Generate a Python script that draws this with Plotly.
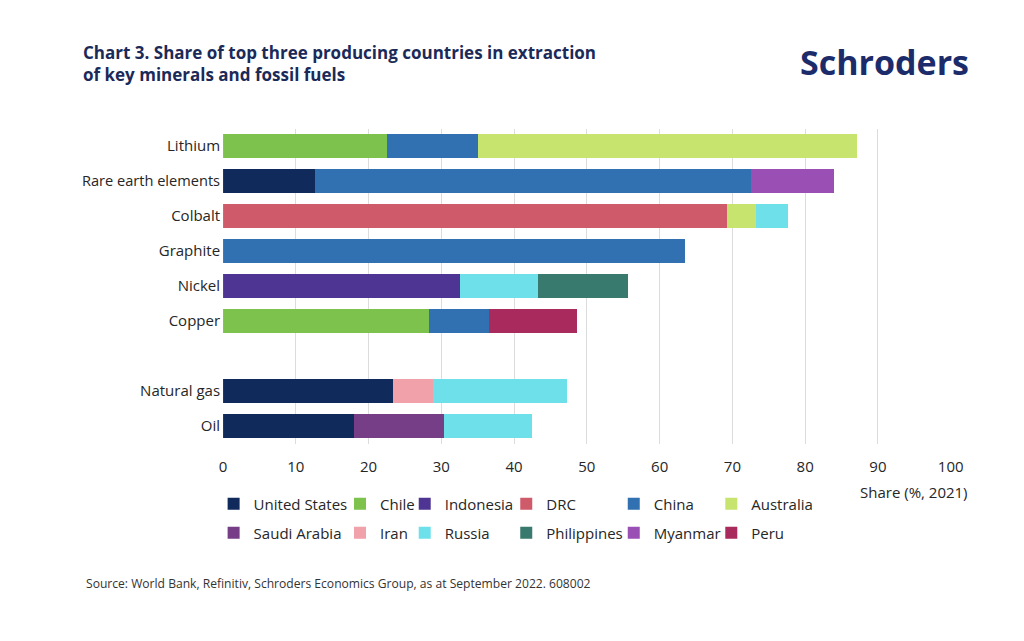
import plotly.graph_objects as go

categories = ["Lithium", "Rare earth elements", "Colbalt", "Graphite", "Nickel", "Copper", " ", "Natural gas", "Oil"]

countries = ["United States", "Chile", "Indonesia", "DRC", "China", "Australia",
             "Saudi Arabia", "Iran", "Russia", "Philippines", "Myanmar", "Peru"]

colors = ["#112a5c", "#7cc24c", "#4e3493", "#cf5b6a", "#3171b1", "#c7e46f",
          "#763e86", "#f0a1a9", "#6ee0ea", "#387a6d", "#9a4fb4", "#a92b5e"]

#                 Lith  REE   Cob   Graph Nick  Copp  gap   Gas   Oil
united_states = [None, 12.7, None, None, None, None, None, 23.3, 18.0]
chile         = [22.5, None, None, None, None, 28.3, None, None, None]
indonesia     = [None, None, None, None, 32.6, None, None, None, None]
drc           = [None, None, 69.3, None, None, None, None, None, None]
china         = [12.5, 59.9, None, 63.5, None, 8.3, None, None, None]
australia     = [52.1, None, 4.0, None, None, None, None, None, None]
saudi_arabia  = [None, None, None, None, None, None, None, None, 12.3]
iran          = [None, None, None, None, None, None, None, 5.6, None]
russia        = [None, None, 4.4, None, 10.7, None, None, 18.4, 12.1]
philippines   = [None, None, None, None, 12.4, None, None, None, None]
myanmar       = [None, 11.3, None, None, None, None, None, None, None]
peru          = [None, None, None, None, None, 12.0, None, None, None]

series = [united_states, chile, indonesia, drc, china, australia,
          saudi_arabia, iran, russia, philippines, myanmar, peru]

x_ticks = [0, 10, 20, 30, 40, 50, 60, 70, 80, 90, 100]

W, H = 1024, 641
FONT = "Open Sans"
TXT = "#262626"


def fx(p):
    """target screen pixel (x) -> paper fraction (compensates page scaling)"""
    return (p - 2.4) / 0.988 / W


def fy(p):
    return 1 - p / H


# legend text-start positions (px) per column, and row centres (px)
col_text_x = [253, 380, 445, 547, 655, 753]
row_y = [504, 533]

fig = go.Figure()
legend_layouts = {}
for i, (name, vals, col) in enumerate(zip(countries, series, colors)):
    lname = "legend" if i == 0 else f"legend{i + 1}"
    fig.add_trace(go.Bar(
        y=categories, x=vals, name=name, orientation="h",
        marker=dict(color=col, line=dict(width=0)),
        legend=lname,
    ))
    r, c = divmod(i, 6)
    legend_layouts[lname] = dict(
        x=fx(col_text_x[c] - 40), xanchor="left",
        y=fy(row_y[r]), yanchor="middle",
        bgcolor="rgba(0,0,0,0)", borderwidth=0,
        font=dict(family=FONT, size=15, color=TXT),
        itemclick=False, itemdoubleclick=False,
    )

tick_text = [('<span style="font-size:14.6px">' + c + '</span>') if c == "Rare earth elements" else c
             for c in categories]

fig.update_layout(
    width=W, height=H,
    margin=dict(l=0, r=0, t=0, b=0),
    paper_bgcolor="white", plot_bgcolor="white",
    barmode="stack", bargap=0.34,
    showlegend=True,
    font=dict(family=FONT, size=15, color=TXT),
    xaxis=dict(
        domain=[fx(222.5), fx(953.5)], range=[0, 100],
        tickvals=x_ticks, showgrid=True, gridcolor="#dcdcdc", gridwidth=1,
        zeroline=False, showline=False, ticks="",
        ticklabelstandoff=12,
        tickfont=dict(family=FONT, size=15, color=TXT),
    ),
    yaxis=dict(
        domain=[fy(443.5), fy(128.5)],
        type="category", categoryorder="array", categoryarray=categories,
        tickvals=categories, ticktext=tick_text,
        range=[len(categories) - 0.5, -0.5],
        showgrid=False, zeroline=False, showline=False, ticks="",
        ticklabelstandoff=2,
        tickfont=dict(family=FONT, size=15, color=TXT),
    ),
    **legend_layouts,
)

fig.add_annotation(
    text="<b>Chart 3. Share of top three producing countries in extraction<br>of key minerals and fossil fuels</b>",
    xref="paper", yref="paper", x=fx(80), y=fy(39),
    xanchor="left", yanchor="top", align="left", showarrow=False,
    font=dict(family=FONT, size=17, color="#1b2a58"),
)
fig.add_annotation(
    text="<b>Schroders</b>",
    xref="paper", yref="paper", x=fx(974), y=fy(62),
    xanchor="right", yanchor="middle", showarrow=False,
    font=dict(family=FONT, size=34, color="#1c2c6b"),
)
fig.add_annotation(
    text="Share (%, 2021)",
    xref="paper", yref="paper", x=fx(973), y=fy(492),
    xanchor="right", yanchor="middle", showarrow=False,
    font=dict(family=FONT, size=15, color=TXT),
)
fig.add_annotation(
    text="Source: World Bank, Refinitiv, Schroders Economics Group, as at September 2022. 608002",
    xref="paper", yref="paper", x=fx(83), y=fy(583),
    xanchor="left", yanchor="middle", showarrow=False,
    font=dict(family=FONT, size=12.1, color="#333333"),
)

fig.write_html("out.html")
